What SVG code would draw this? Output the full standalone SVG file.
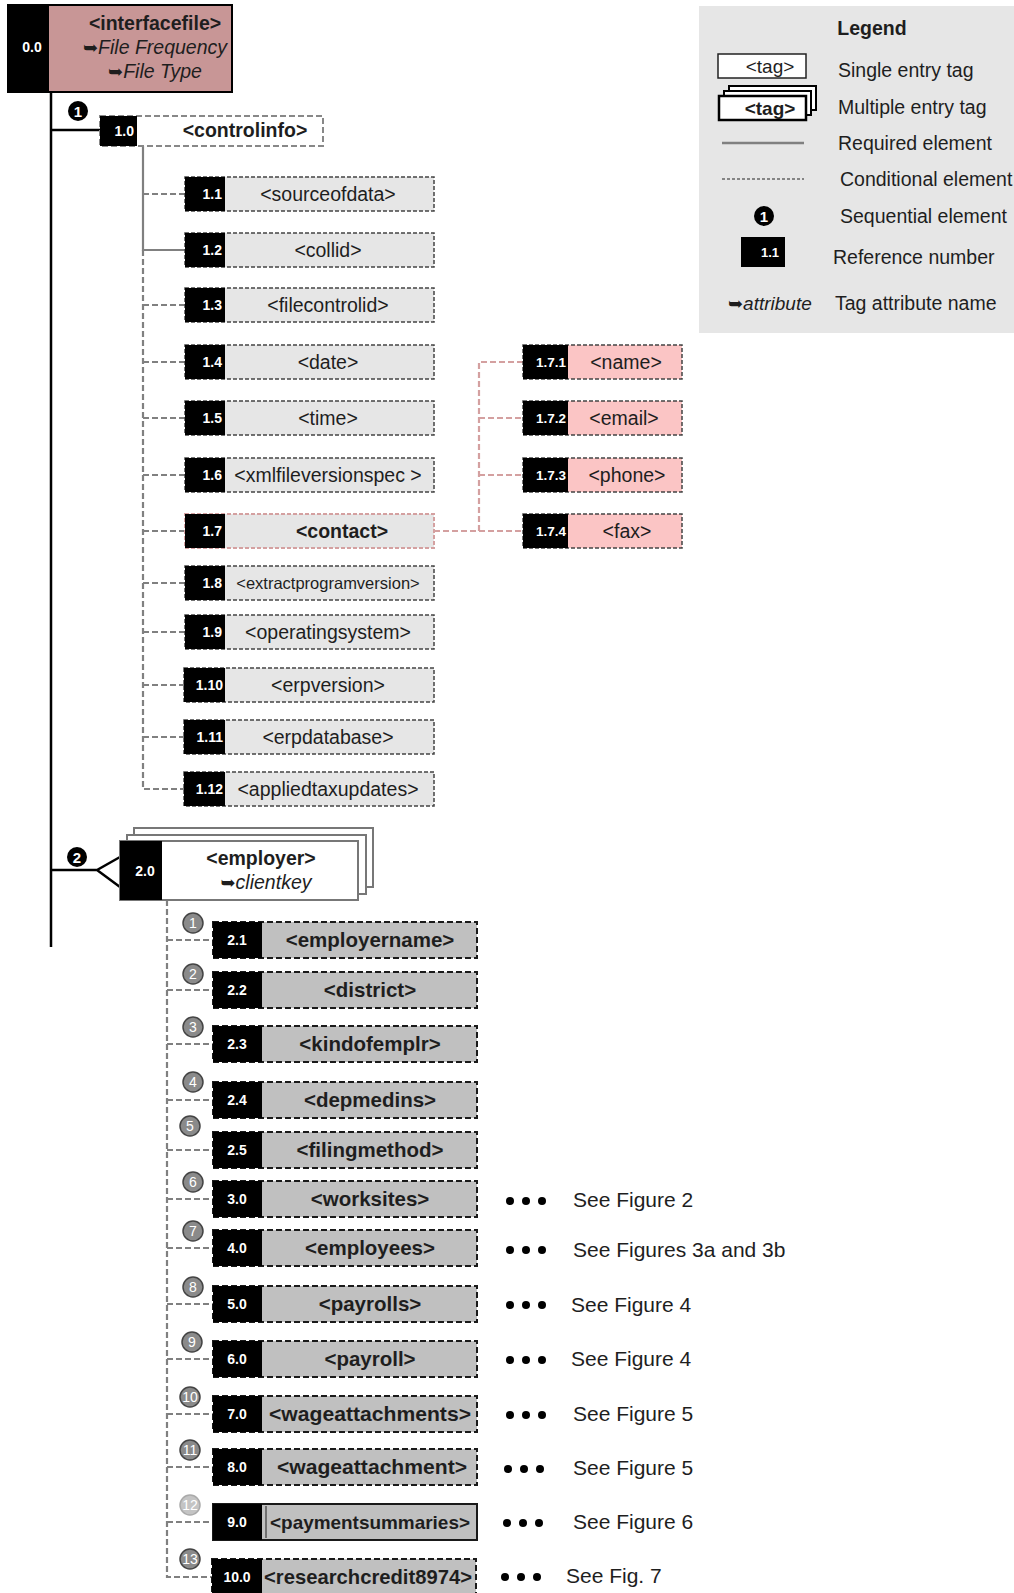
<svg xmlns="http://www.w3.org/2000/svg" width="1014" height="1593" viewBox="0 0 1014 1593">
<style>
text{font-family:"Liberation Sans",Arial,sans-serif;fill:#1e1e1e}
.t{font-size:19.5px;text-anchor:middle}
.t2{font-size:20.5px;font-weight:bold;text-anchor:middle}
.b{font-weight:bold}
.i{font-style:italic}
.sym{font-family:"DejaVu Sans",sans-serif;font-style:normal;font-weight:bold;font-size:18px}
.ref{fill:#fff;font-weight:bold;font-size:14px;text-anchor:end}
.ref2{fill:#fff;font-weight:bold;font-size:14px;text-anchor:middle}
.box1{fill:#e6e6e6;stroke:#444;stroke-width:1.5;stroke-dasharray:4 2}
.box2{fill:#c0c0c0;stroke:#1a1a1a;stroke-width:2;stroke-dasharray:6 3}
.pink{fill:#fbc5c5;stroke:#444;stroke-width:1.5;stroke-dasharray:4 2}
.blk{fill:#000}
.cd{fill:none;stroke:#808080;stroke-width:2.2;stroke-dasharray:6 3}
.cs{fill:none;stroke:#808080;stroke-width:2.2}
.cp{fill:none;stroke:#d4a0a0;stroke-width:2.2;stroke-dasharray:6 3}
.trunk{fill:none;stroke:#000;stroke-width:2.5}
.gc{fill:#8a8a8a;stroke:#444;stroke-width:1.5}
.gct{fill:#fff;font-size:14px;text-anchor:middle}
.wc{fill:#fff;font-size:15px;font-weight:bold;text-anchor:middle}
.lg{font-size:19.5px}
.dot{fill:#000}
.see{font-size:21px}
</style>

<rect x="699" y="6" width="315" height="327" fill="#e6e6e6"/>

<g id="connectors">
  <path class="trunk" d="M51,92 V947 M51,130 H100 M51,870 H97 L120,857 M97,870 L120,887"/>
  <path class="cs" d="M143,146 V250 H185"/>
  <path class="cd" d="M143,250 V789 H185 M143,194 H185 M143,305 H185 M143,362 H185 M143,418 H185 M143,475 H185 M143,531 H185 M143,583 H185 M143,632 H185 M143,685 H185 M143,737 H185"/>
  <path class="cp" d="M434,531 H479 V362 H523 M479,418 H523 M479,475 H523 M479,531 H523"/>
  <path class="cd" d="M167,900 V1577 H213 M167,940 H213 M167,990 H213 M167,1044 H213 M167,1100 H213 M167,1150 H213 M167,1199 H213 M167,1248 H213 M167,1304 H213 M167,1359 H213 M167,1414 H213 M167,1467 H213 M167,1522 H213"/>
</g>

<g id="n0_0">
  <rect x="8" y="5" width="224" height="87" fill="#c89696" stroke="#000" stroke-width="2"/>
  <rect x="8" y="5" width="41" height="87" class="blk"/>
  <text x="32" y="52" class="ref" style="text-anchor:middle">0.0</text>
  <text x="155" y="30" class="t b">&lt;interfacefile&gt;</text>
  <text x="155" y="54" class="t i"><tspan class="sym">➥</tspan>File Frequency</text>
  <text x="155" y="78" class="t i"><tspan class="sym">➥</tspan>File Type</text>
</g>

<g id="seq1">
  <circle cx="78" cy="111" r="10" fill="#000"/>
  <text x="78" y="116.5" class="wc">1</text>
</g>

<g id="n1_0">
  <rect x="100" y="116" width="223" height="30" fill="#fff" stroke="#888" stroke-width="2" stroke-dasharray="6 3"/>
  <rect x="100" y="116" width="37" height="30" class="blk"/>
  <text x="134" y="136" class="ref">1.0</text>
  <text x="245" y="137" class="t b">&lt;controlinfo&gt;</text>
</g>

<g id="n1_1"><rect x="185" y="177" width="249" height="34" class="box1"/><rect x="185" y="177" width="40" height="34" class="blk"/><text x="222" y="199" class="ref">1.1</text><text x="328" y="201" class="t">&lt;sourceofdata&gt;</text></g>
<g id="n1_2"><rect x="185" y="233" width="249" height="34" class="box1"/><rect x="185" y="233" width="40" height="34" class="blk"/><text x="222" y="255" class="ref">1.2</text><text x="328" y="257" class="t">&lt;collid&gt;</text></g>
<g id="n1_3"><rect x="185" y="288" width="249" height="34" class="box1"/><rect x="185" y="288" width="40" height="34" class="blk"/><text x="222" y="310" class="ref">1.3</text><text x="328" y="312" class="t">&lt;filecontrolid&gt;</text></g>
<g id="n1_4"><rect x="185" y="345" width="249" height="34" class="box1"/><rect x="185" y="345" width="40" height="34" class="blk"/><text x="222" y="367" class="ref">1.4</text><text x="328" y="369" class="t">&lt;date&gt;</text></g>
<g id="n1_5"><rect x="185" y="401" width="249" height="34" class="box1"/><rect x="185" y="401" width="40" height="34" class="blk"/><text x="222" y="423" class="ref">1.5</text><text x="328" y="425" class="t">&lt;time&gt;</text></g>
<g id="n1_6"><rect x="185" y="458" width="249" height="34" class="box1"/><rect x="185" y="458" width="40" height="34" class="blk"/><text x="222" y="480" class="ref">1.6</text><text x="328" y="482" class="t">&lt;xmlfileversionspec &gt;</text></g>
<g id="n1_7"><rect x="185" y="514" width="249" height="34" class="box1" style="stroke:#d4a0a0;stroke-width:2"/><rect x="185" y="514" width="40" height="34" class="blk"/><text x="222" y="536" class="ref">1.7</text><text x="342" y="538" class="t b">&lt;contact&gt;</text></g>
<g id="n1_8"><rect x="185" y="566" width="249" height="34" class="box1"/><rect x="185" y="566" width="40" height="34" class="blk"/><text x="222" y="588" class="ref">1.8</text><text x="328" y="589" class="t" style="font-size:16.5px">&lt;extractprogramversion&gt;</text></g>
<g id="n1_9"><rect x="185" y="615" width="249" height="34" class="box1"/><rect x="185" y="615" width="40" height="34" class="blk"/><text x="222" y="637" class="ref">1.9</text><text x="328" y="639" class="t">&lt;operatingsystem&gt;</text></g>
<g id="n1_10"><rect x="184" y="668" width="250" height="34" class="box1"/><rect x="184" y="668" width="41" height="34" class="blk"/><text x="223" y="690" class="ref">1.10</text><text x="328" y="692" class="t">&lt;erpversion&gt;</text></g>
<g id="n1_11"><rect x="184" y="720" width="250" height="34" class="box1"/><rect x="184" y="720" width="41" height="34" class="blk"/><text x="223" y="742" class="ref">1.11</text><text x="328" y="744" class="t">&lt;erpdatabase&gt;</text></g>
<g id="n1_12"><rect x="184" y="772" width="250" height="34" class="box1"/><rect x="184" y="772" width="41" height="34" class="blk"/><text x="223" y="794" class="ref">1.12</text><text x="328" y="796" class="t">&lt;appliedtaxupdates&gt;</text></g>

<g id="n1_7_1"><rect x="523" y="345" width="159" height="34" class="pink"/><rect x="523" y="345" width="45" height="34" class="blk"/><text x="566" y="367" class="ref" style="font-size:13.5px">1.7.1</text><text x="626" y="369" class="t">&lt;name&gt;</text></g>
<g id="n1_7_2"><rect x="523" y="401" width="159" height="34" class="pink"/><rect x="523" y="401" width="45" height="34" class="blk"/><text x="566" y="423" class="ref" style="font-size:13.5px">1.7.2</text><text x="624" y="425" class="t">&lt;email&gt;</text></g>
<g id="n1_7_3"><rect x="523" y="458" width="159" height="34" class="pink"/><rect x="523" y="458" width="45" height="34" class="blk"/><text x="566" y="480" class="ref" style="font-size:13.5px">1.7.3</text><text x="627" y="482" class="t">&lt;phone&gt;</text></g>
<g id="n1_7_4"><rect x="523" y="514" width="159" height="34" class="pink"/><rect x="523" y="514" width="45" height="34" class="blk"/><text x="566" y="536" class="ref" style="font-size:13.5px">1.7.4</text><text x="627" y="538" class="t">&lt;fax&gt;</text></g>

<g id="seq2">
  <circle cx="77" cy="857" r="10" fill="#000"/>
  <text x="77" y="862.5" class="wc">2</text>
</g>

<g id="n2_0">
  <rect x="134" y="828" width="239" height="59" fill="#fff" stroke="#777" stroke-width="2"/>
  <rect x="127" y="835" width="239" height="59" fill="#fff" stroke="#777" stroke-width="2"/>
  <rect x="120" y="841" width="238" height="59" fill="#fff" stroke="#777" stroke-width="2"/>
  <rect x="120" y="841" width="42" height="59" class="blk"/>
  <text x="145" y="876" class="ref2">2.0</text>
  <text x="261" y="865" class="t b">&lt;employer&gt;</text>
  <text x="266" y="889" class="t i"><tspan class="sym">➥</tspan>clientkey</text>
</g>

<g id="n2_1"><circle cx="193" cy="923" r="10" class="gc"/><text x="193" y="928" class="gct">1</text><rect x="213" y="922" width="264" height="36" class="box2"/><rect x="213" y="922" width="49" height="36" class="blk"/><text x="237" y="945" class="ref2">2.1</text><text x="370" y="947" class="t2">&lt;employername&gt;</text></g>
<g id="n2_2"><circle cx="193" cy="974" r="10" class="gc"/><text x="193" y="979" class="gct">2</text><rect x="213" y="972" width="264" height="36" class="box2"/><rect x="213" y="972" width="49" height="36" class="blk"/><text x="237" y="995" class="ref2">2.2</text><text x="370" y="997" class="t2">&lt;district&gt;</text></g>
<g id="n2_3"><circle cx="193" cy="1027" r="10" class="gc"/><text x="193" y="1032" class="gct">3</text><rect x="213" y="1026" width="264" height="36" class="box2"/><rect x="213" y="1026" width="49" height="36" class="blk"/><text x="237" y="1049" class="ref2">2.3</text><text x="370" y="1051" class="t2">&lt;kindofemplr&gt;</text></g>
<g id="n2_4"><circle cx="193" cy="1082" r="10" class="gc"/><text x="193" y="1087" class="gct">4</text><rect x="213" y="1082" width="264" height="36" class="box2"/><rect x="213" y="1082" width="49" height="36" class="blk"/><text x="237" y="1105" class="ref2">2.4</text><text x="370" y="1107" class="t2">&lt;depmedins&gt;</text></g>
<g id="n2_5"><circle cx="190" cy="1126" r="10" class="gc"/><text x="190" y="1131" class="gct">5</text><rect x="213" y="1132" width="264" height="36" class="box2"/><rect x="213" y="1132" width="49" height="36" class="blk"/><text x="237" y="1155" class="ref2">2.5</text><text x="370" y="1157" class="t2">&lt;filingmethod&gt;</text></g>
<g id="n3_0"><circle cx="193" cy="1182" r="10" class="gc"/><text x="193" y="1187" class="gct">6</text><rect x="213" y="1181" width="264" height="36" class="box2"/><rect x="213" y="1181" width="49" height="36" class="blk"/><text x="237" y="1204" class="ref2">3.0</text><text x="370" y="1206" class="t2">&lt;worksites&gt;</text></g>
<g id="n4_0"><circle cx="193" cy="1231" r="10" class="gc"/><text x="193" y="1236" class="gct">7</text><rect x="213" y="1230" width="264" height="36" class="box2"/><rect x="213" y="1230" width="49" height="36" class="blk"/><text x="237" y="1253" class="ref2">4.0</text><text x="370" y="1255" class="t2">&lt;employees&gt;</text></g>
<g id="n5_0"><circle cx="193" cy="1287" r="10" class="gc"/><text x="193" y="1292" class="gct">8</text><rect x="213" y="1286" width="264" height="36" class="box2"/><rect x="213" y="1286" width="49" height="36" class="blk"/><text x="237" y="1309" class="ref2">5.0</text><text x="370" y="1311" class="t2">&lt;payrolls&gt;</text></g>
<g id="n6_0"><circle cx="192" cy="1342" r="10" class="gc"/><text x="192" y="1347" class="gct">9</text><rect x="213" y="1341" width="264" height="36" class="box2"/><rect x="213" y="1341" width="49" height="36" class="blk"/><text x="237" y="1364" class="ref2">6.0</text><text x="370" y="1366" class="t2">&lt;payroll&gt;</text></g>
<g id="n7_0"><circle cx="190" cy="1397" r="10" class="gc"/><text x="190" y="1402" class="gct">10</text><rect x="213" y="1396" width="264" height="36" class="box2"/><rect x="213" y="1396" width="49" height="36" class="blk"/><text x="237" y="1419" class="ref2">7.0</text><text x="370" y="1421" class="t2" textLength="202" lengthAdjust="spacingAndGlyphs">&lt;wageattachments&gt;</text></g>
<g id="n8_0"><circle cx="190" cy="1450" r="10" class="gc"/><text x="190" y="1455" class="gct">11</text><rect x="213" y="1449" width="264" height="36" class="box2"/><rect x="213" y="1449" width="49" height="36" class="blk"/><text x="237" y="1472" class="ref2">8.0</text><text x="372" y="1474" class="t2" textLength="190" lengthAdjust="spacingAndGlyphs">&lt;wageattachment&gt;</text></g>
<g id="n9_0"><circle cx="190" cy="1505" r="10" fill="#c4c4c4" stroke="#aaa" stroke-width="1.5"/><text x="190" y="1510" class="gct">12</text><rect x="213" y="1504" width="264" height="36" fill="#c0c0c0" stroke="#1a1a1a" stroke-width="2"/><rect x="213" y="1504" width="49" height="36" class="blk"/><line x1="266" y1="1506" x2="266" y2="1538" stroke="#555" stroke-width="1.5"/><text x="237" y="1527" class="ref2">9.0</text><text x="370" y="1529" class="t2" style="font-size:19px" textLength="200" lengthAdjust="spacingAndGlyphs">&lt;paymentsummaries&gt;</text></g>
<g id="n10_0"><circle cx="190" cy="1559" r="10" class="gc"/><text x="190" y="1564" class="gct">13</text><rect x="212" y="1559" width="264" height="36" class="box2"/><rect x="212" y="1559" width="50" height="36" class="blk"/><text x="237" y="1582" class="ref2">10.0</text><text x="368" y="1584" class="t2" textLength="208" lengthAdjust="spacingAndGlyphs">&lt;researchcredit8974&gt;</text></g>

<g id="refs">
  <g><circle cx="510" cy="1201" r="4" class="dot"/><circle cx="526" cy="1201" r="4" class="dot"/><circle cx="542" cy="1201" r="4" class="dot"/><text x="573" y="1207" class="see">See Figure 2</text></g>
  <g><circle cx="510" cy="1250" r="4" class="dot"/><circle cx="526" cy="1250" r="4" class="dot"/><circle cx="542" cy="1250" r="4" class="dot"/><text x="573" y="1257" class="see">See Figures 3a and 3b</text></g>
  <g><circle cx="510" cy="1305" r="4" class="dot"/><circle cx="526" cy="1305" r="4" class="dot"/><circle cx="542" cy="1305" r="4" class="dot"/><text x="571" y="1312" class="see">See Figure 4</text></g>
  <g><circle cx="510" cy="1360" r="4" class="dot"/><circle cx="526" cy="1360" r="4" class="dot"/><circle cx="542" cy="1360" r="4" class="dot"/><text x="571" y="1366" class="see">See Figure 4</text></g>
  <g><circle cx="510" cy="1415" r="4" class="dot"/><circle cx="526" cy="1415" r="4" class="dot"/><circle cx="542" cy="1415" r="4" class="dot"/><text x="573" y="1421" class="see">See Figure 5</text></g>
  <g><circle cx="508" cy="1469" r="4" class="dot"/><circle cx="524" cy="1469" r="4" class="dot"/><circle cx="540" cy="1469" r="4" class="dot"/><text x="573" y="1475" class="see">See Figure 5</text></g>
  <g><circle cx="507" cy="1523" r="4" class="dot"/><circle cx="523" cy="1523" r="4" class="dot"/><circle cx="539" cy="1523" r="4" class="dot"/><text x="573" y="1529" class="see">See Figure 6</text></g>
  <g><circle cx="505" cy="1577" r="4" class="dot"/><circle cx="521" cy="1577" r="4" class="dot"/><circle cx="537" cy="1577" r="4" class="dot"/><text x="566" y="1583" class="see">See Fig. 7</text></g>
</g>

<g id="legend">
  <text x="872" y="35" class="lg b" style="text-anchor:middle">Legend</text>
  <rect x="718" y="54" width="88" height="24" fill="#fff" stroke="#222" stroke-width="1.5"/>
  <text x="770" y="73" class="lg" style="text-anchor:middle;font-size:19px">&lt;tag&gt;</text>
  <text x="838" y="77" class="lg">Single entry tag</text>
  <rect x="729" y="86" width="87" height="24" fill="#fff" stroke="#000" stroke-width="2"/>
  <rect x="724" y="91" width="87" height="24" fill="#fff" stroke="#000" stroke-width="2"/>
  <rect x="719" y="96" width="87" height="24" fill="#fff" stroke="#000" stroke-width="2.5"/>
  <text x="770" y="115" class="lg b" style="text-anchor:middle;font-size:19px">&lt;tag&gt;</text>
  <text x="838" y="114" class="lg">Multiple entry tag</text>
  <line x1="722" y1="143" x2="804" y2="143" stroke="#808080" stroke-width="2.5"/>
  <text x="838" y="150" class="lg">Required element</text>
  <line x1="722" y1="179" x2="804" y2="179" stroke="#222" stroke-width="1.2" stroke-dasharray="3 2"/>
  <text x="840" y="186" class="lg">Conditional element</text>
  <circle cx="764" cy="216" r="10" fill="#000"/>
  <text x="764" y="221.5" class="wc">1</text>
  <text x="840" y="223" class="lg">Sequential element</text>
  <rect x="741" y="237" width="44" height="30" class="blk"/>
  <text x="770" y="257" style="fill:#fff;font-size:13px;font-weight:bold;text-anchor:middle">1.1</text>
  <text x="833" y="264" class="lg">Reference number</text>
  <text x="728" y="310" class="lg i" style="font-size:19px"><tspan class="sym">➥</tspan>attribute</text>
  <text x="835" y="310" class="lg">Tag attribute name</text>
</g>
</svg>
